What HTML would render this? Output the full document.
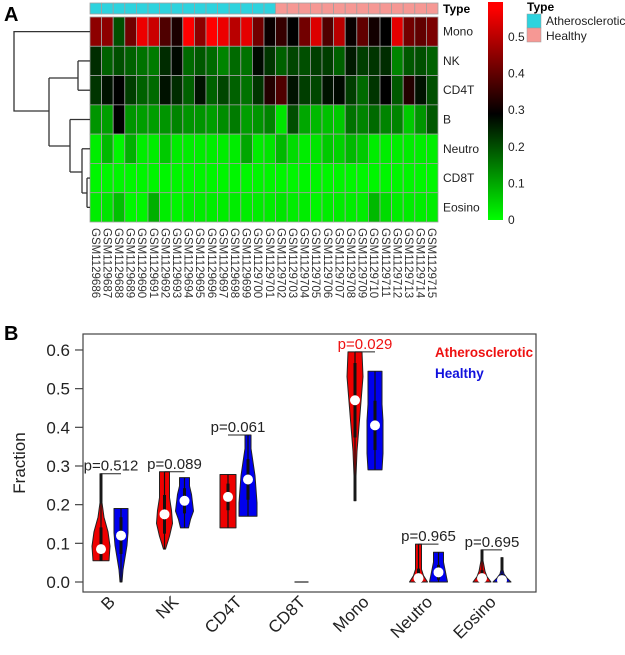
<!DOCTYPE html>
<html><head><meta charset="utf-8">
<style>
html,body{margin:0;padding:0;background:#fff;}
svg{display:block;font-family:"Liberation Sans",Arial,sans-serif;}
</style></head>
<body>
<svg id="fig" width="625" height="655" viewBox="0 0 625 655" xmlns="http://www.w3.org/2000/svg">
<defs>
<linearGradient id="cbg" x1="0" y1="1" x2="0" y2="0">
<stop offset="0" stop-color="#00ff00"/>
<stop offset="0.487" stop-color="#000000"/>
<stop offset="0.973" stop-color="#ff0000"/>
<stop offset="1" stop-color="#ff0000"/>
</linearGradient>
</defs>
<text x="4" y="21" font-size="20" font-weight="bold">A</text>
<text x="4" y="340" font-size="20" font-weight="bold">B</text>
<g id="heat"></g>
<g id="dend" stroke="#333" stroke-width="1.3" fill="none"></g>
<g>
<rect x="488" y="2" width="15" height="218" fill="url(#cbg)"/>
<g id="cbticks" font-size="12" fill="#222"></g>
</g>
<g>
<text x="527" y="11" font-size="12" font-weight="bold">Type</text>
<rect x="527" y="14" width="14" height="14" fill="#2ed3de" stroke="#999" stroke-width="0.5"/>
<text x="546" y="25" font-size="12" fill="#222">Atherosclerotic</text>
<rect x="527" y="28" width="14" height="14" fill="#f69894" stroke="#999" stroke-width="0.5"/>
<text x="546" y="40" font-size="12" fill="#222">Healthy</text>
</g>
<g id="violin">
<rect x="83" y="334" width="453" height="258" fill="none" stroke="#444" stroke-width="1.2"/>
<text transform="translate(25,463) rotate(-90)" text-anchor="middle" font-size="17" fill="#222">Fraction</text>
<text x="435" y="357" font-size="13.5" font-weight="bold" fill="#ee1111" textLength="98" lengthAdjust="spacingAndGlyphs">Atherosclerotic</text>
<text x="435" y="378" font-size="13.5" font-weight="bold" fill="#1111dd">Healthy</text>
</g>
</svg>
<script>
// ===== Heatmap data =====
const rowNames = ["Mono","NK","CD4T","B","Neutro","CD8T","Eosino"];
const sampleIds = ["GSM1129686","GSM1129687","GSM1129688","GSM1129689","GSM1129690","GSM1129691","GSM1129692","GSM1129693","GSM1129694","GSM1129695","GSM1129696","GSM1129697","GSM1129698","GSM1129699","GSM1129700","GSM1129701","GSM1129702","GSM1129703","GSM1129704","GSM1129705","GSM1129706","GSM1129707","GSM1129708","GSM1129709","GSM1129710","GSM1129711","GSM1129712","GSM1129713","GSM1129714","GSM1129715"];
const sampleType = ["A","A","A","A","A","A","A","A","A","A","A","A","A","A","A","A","H","H","H","H","H","H","H","H","H","H","H","H","H","H"];
const monoVals = [0.45,0.45,0.2,0.42,0.56,0.52,0.38,0.32,0.58,0.45,0.58,0.56,0.5,0.55,0.42,0.3,0.35,0.29,0.42,0.54,0.38,0.5,0.3,0.4,0.31,0.29,0.55,0.42,0.4,0.43];
const nkVals = [0.24,0.18,0.2,0.18,0.16,0.15,0.24,0.28,0.17,0.19,0.17,0.14,0.17,0.16,0.28,0.23,0.18,0.21,0.2,0.22,0.22,0.18,0.26,0.22,0.23,0.24,0.14,0.19,0.2,0.18];
const cd4tVals = [0.23,0.27,0.29,0.22,0.18,0.17,0.27,0.24,0.18,0.27,0.18,0.21,0.18,0.16,0.23,0.33,0.38,0.27,0.22,0.21,0.27,0.28,0.22,0.17,0.23,0.29,0.19,0.33,0.27,0.2];
const bVals = [0.12,0.11,0.29,0.12,0.11,0.11,0.12,0.14,0.12,0.12,0.11,0.13,0.15,0.11,0.12,0.14,0.03,0.2,0.1,0.08,0.07,0.06,0.16,0.14,0.17,0.14,0.14,0.06,0.12,0.19];
const neutroVals = [0.02,0.08,0.01,0.09,0.02,0.02,0.06,0.02,0.02,0.02,0.02,0.02,0.02,0.1,0.02,0.03,0.08,0.04,0.02,0.03,0.06,0.05,0.08,0.06,0.02,0.02,0.02,0.02,0.02,0.02];
const cd8tVals = [0.01,0.01,0.01,0.01,0.01,0.01,0.01,0.01,0.01,0.01,0.01,0.01,0.01,0.01,0.01,0.01,0.01,0.01,0.01,0.01,0.01,0.01,0.01,0.01,0.01,0.01,0.01,0.01,0.01,0.01];
const eosinoVals = [0.02,0.03,0.07,0.01,0.01,0.09,0.02,0.01,0.02,0.02,0.02,0.02,0.02,0.02,0.02,0.02,0.03,0.02,0.02,0.01,0.02,0.02,0.02,0.02,0.08,0.04,0.02,0.02,0.02,0.02];
const colorTicks = [0,0.1,0.2,0.3,0.4,0.5];

// ===== Violin data =====
const cellTypes = ["B","NK","CD4T","CD8T","Mono","Neutro","Eosino"];
const athMin = [0.055,0.085,0.14,0,0.21,0,0];
const athMax = [0.28,0.285,0.278,0,0.595,0.098,0.083];
const athMed = [0.085,0.175,0.22,0,0.47,0.01,0.01];
const athShape = [[8,9,7,3,1,1,1],[1,5,8,7,5,5,5],[8,8,8,8,8,8,8],[0,0,0,0,0,0,0],[1,1,2,4,6,8,7],[9,5,3,3,3,3,3],[9,5,3,2,1,1,1]];
const heaMin = [0,0.14,0.17,0,0.29,0,0];
const heaMax = [0.19,0.27,0.38,0,0.545,0.077,0.063];
const heaMed = [0.12,0.21,0.265,0,0.405,0.025,0.005];
const heaShape = [[1,2,4,6,7,7,7],[4,6,9,8,7,5,5],[9,9,8,7,5,3,3],[0,0,0,0,0,0,0],[7,8,8,8,7,7,7],[9,8,7,6,5,5,5],[9,5,2,1,1,1,1]];
const pLabels = ["p=0.512","p=0.089","p=0.061","","p=0.029","p=0.965","p=0.695"];
const yTicks = [0,0.1,0.2,0.3,0.4,0.5,0.6];
const yTickLabels = ["0.0","0.1","0.2","0.3","0.4","0.5","0.6"];

const NS="http://www.w3.org/2000/svg";
function mk(tag, attrs, parent){const e=document.createElementNS(NS,tag);for(const k in attrs)e.setAttribute(k,attrs[k]);parent.appendChild(e);return e;}

const hx0=90,hx1=438,hy0=17,hy1=222;
const cw=(hx1-hx0)/sampleIds.length, rh=(hy1-hy0)/rowNames.length;
function heatColor(v){
  const mid=0.29, top=0.58;
  if(v<=mid){const g=Math.round(255*Math.max(0,(mid-v)/mid));return `rgb(0,${g},0)`;}
  const r=Math.round(255*Math.min(1,(v-mid)/(top-mid)));return `rgb(${r},0,0)`;
}
const heat=document.getElementById('heat');
const rows=[monoVals,nkVals,cd4tVals,bVals,neutroVals,cd8tVals,eosinoVals];
sampleType.forEach((t,j)=>{
  const r=mk('rect',{x:hx0+j*cw,y:3,width:cw,height:11,fill:t==="A"?"#2ed3de":"#f69894",stroke:"#a0a0a0","stroke-width":0.8},heat);
  
  
});
const tl=mk('text',{x:443,y:13,"font-size":12,"font-weight":"bold"},heat);tl.textContent="Type";


rows.forEach((vals,i)=>{
  vals.forEach((v,j)=>{
    const r=mk('rect',{x:hx0+j*cw,y:hy0+i*rh,width:cw,height:rh,fill:heatColor(v),stroke:"#a0a0a0","stroke-width":0.8},heat);
    
    
  });
  const t=mk('text',{x:443,y:hy0+(i+0.5)*rh+4,"font-size":12,fill:"#222"},heat);t.textContent=rowNames[i];
  
  
});
sampleIds.forEach((s,j)=>{
  const cx=hx0+(j+0.5)*cw-4;
  const t=mk('text',{transform:`translate(${cx},228) rotate(90)`,"font-size":11.5,fill:"#333"},heat);t.textContent=s;
  
  
});
const cbt=document.getElementById('cbticks');
const cbY=v=>220-v*366;
colorTicks.forEach(v=>{
  const t=mk('text',{x:508,y:cbY(v)+4},cbt);t.textContent=String(v);
  
  
});
const dend=document.getElementById('dend');
const ly=i=>hy0+(i+0.5)*rh;
const segs=[
 `M90,${ly(0)}H14V111H49`,
 `M49,78V146`,`M49,78H78`,`M78,${ly(1)}V${ly(2)}`,`M78,${ly(1)}H90`,`M78,${ly(2)}H90`,
 `M49,146H70`,`M70,${ly(3)}V172`,`M70,${ly(3)}H90`,`M70,172H82`,
 `M82,${ly(4)}V193`,`M82,${ly(4)}H90`,`M82,193H87`,`M87,${ly(5)}V${ly(6)}`,`M87,${ly(5)}H90`,`M87,${ly(6)}H90`
];
segs.forEach(d=>{mk('path',{d:d},dend);});

const vg=document.getElementById('violin');
const yS=v=>582-v*386.7;
const xC=i=>111+i*63.5;
yTicks.forEach((v,k)=>{
  const l=mk('line',{x1:75,x2:83,y1:yS(v),y2:yS(v),stroke:"#444","stroke-width":1.2},vg);
  
  
  const t=mk('text',{x:70,y:yS(v)+6,"text-anchor":"end","font-size":17,fill:"#222"},vg);t.textContent=yTickLabels[k];
  
  
});
function violin(cx,mn,mx,md,shape,fill,name){
  if(mx-mn<0.001){
    const l=mk('line',{x1:cx-7,x2:cx+7,y1:yS(mn),y2:yS(mn),stroke:"#222","stroke-width":1.2},vg);
    
    
    return;
  }
  const n=shape.length;let right=[],left=[];
  for(let k=0;k<n;k++){const v=mn+(mx-mn)*k/(n-1);right.push([cx+shape[k],yS(v)]);left.push([cx-shape[k],yS(v)]);}
  let d=`M${cx},${yS(mn)}`;right.forEach(p=>d+=`L${p[0]},${p[1]}`);d+=`L${cx},${yS(mx)}`;
  left.reverse().forEach(p=>d+=`L${p[0]},${p[1]}`);d+="Z";
  const p=mk('path',{d:d,fill:fill,stroke:"#222","stroke-width":1,"stroke-linejoin":"round"},vg);
  
  
  mk('line',{x1:cx,x2:cx,y1:yS(mn),y2:yS(mx),stroke:"#111","stroke-width":1.2},vg);
  const span=(mx-mn)*0.25;
  const lo=Math.max(mn,md-span), hi=Math.min(mx,md+span);
  mk('line',{x1:cx,x2:cx,y1:yS(lo),y2:yS(hi),stroke:"#111","stroke-width":3},vg);
  const c=mk('circle',{cx:cx,cy:yS(md),r:5,fill:"#fff"},vg);
  
  
}
cellTypes.forEach((ct,i)=>{
  const c=xC(i);
  if(i===3){
    violin(c,0,0,0,[],"#f00",'violin-'+ct.toLowerCase());
  }else{
    violin(c-10,athMin[i],athMax[i],athMed[i],athShape[i],"#ee0000",'violin-atherosclerotic-'+ct.toLowerCase());
    violin(c+10,heaMin[i],heaMax[i],heaMed[i],heaShape[i],"#0000ee",'violin-healthy-'+ct.toLowerCase());
  }
  if(pLabels[i]){
    const top=Math.max(athMax[i],heaMax[i]);
    const l=mk('line',{x1:c-10,x2:c+10,y1:yS(top),y2:yS(top),stroke:"#222","stroke-width":1},vg);
    
    
    const t=mk('text',{x:c,y:yS(top)-3,"text-anchor":"middle","font-size":15,fill:i===4?"#ee1111":"#222"},vg);t.textContent=pLabels[i];
    
    
  }
  const t=mk('text',{transform:`translate(${c+5},603) rotate(-45)`,"text-anchor":"end","font-size":17,fill:"#222"},vg);t.textContent=ct;
  
  
});
</script>
</body></html>
